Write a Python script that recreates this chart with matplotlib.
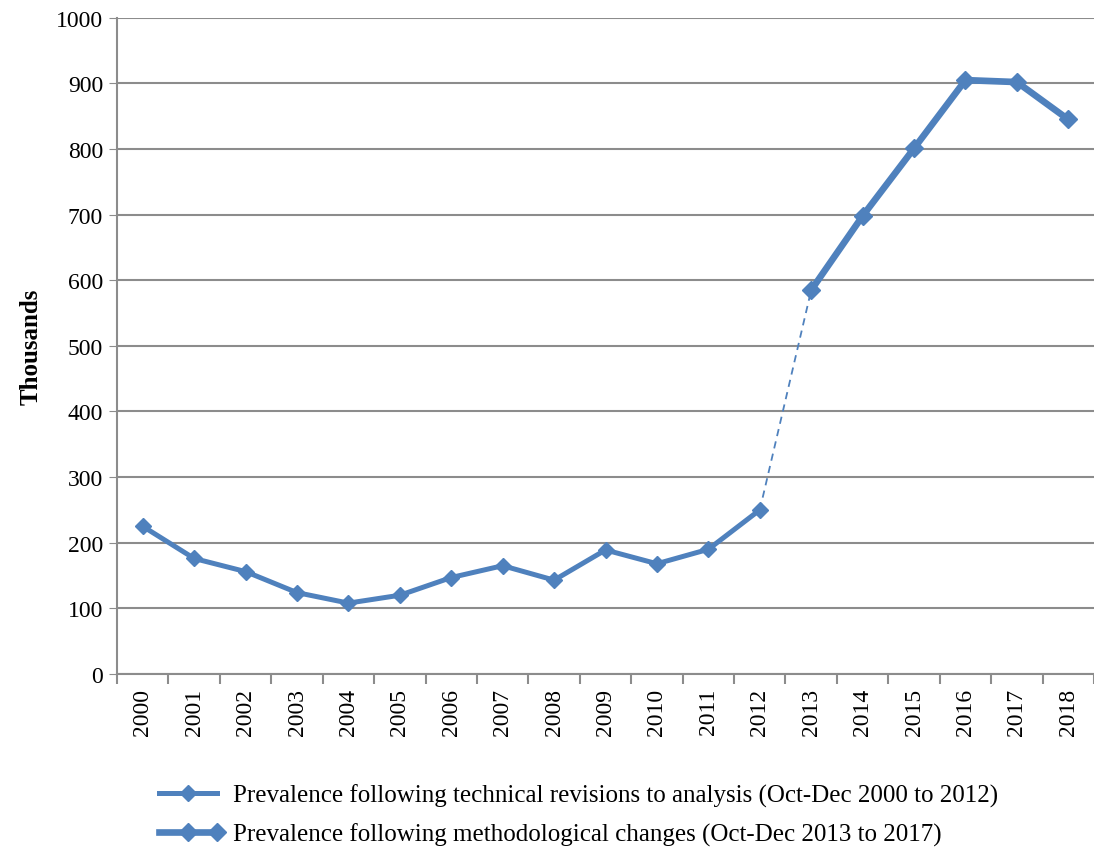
import matplotlib
matplotlib.use("Agg")
import matplotlib.pyplot as plt
from matplotlib.legend_handler import HandlerLine2D

plt.rcParams['font.family'] = ['Liberation Serif', 'DejaVu Serif']

# data (thousands)
years = [str(y) for y in range(2000, 2019)]
technical = [225, 176, 156, 124, 108, 120, 147, 165, 143, 189, 168, 190, 250]
methodological = [585, 698, 801, 905, 902, 845]

label_tech = "Prevalence following technical revisions to analysis (Oct-Dec 2000 to 2012)"
label_meth = "Prevalence following methodological changes (Oct-Dec 2013 to 2017)"

blue = "#4F81BD"
grid_col = "#8C8C8C"


class EndMarkerHandler(HandlerLine2D):
    # legend entry with a marker in the middle and at the right end
    def create_artists(self, *args, **kwargs):
        arts = super().create_artists(*args, **kwargs)
        for a in arts:
            a.set_markevery([1, 2])
        return arts


fig = plt.figure(figsize=(10.94, 8.53), dpi=100)
ax = fig.add_axes([0.107, 0.2087, 0.893, 0.7693])

n1 = len(technical)
x1 = list(range(n1))
x2 = list(range(n1, n1 + len(methodological)))

# dashed connector between the two series
ax.plot([x1[-1], x2[0]], [technical[-1], methodological[0]], color=blue,
        lw=1.3, ls=(0, (4, 3)), zorder=3)
l1, = ax.plot(x1, technical, color=blue, lw=3.6, marker="D", ms=8,
              label=label_tech, zorder=4)
l2, = ax.plot(x2, methodological, color=blue, lw=4.8, marker="D", ms=9,
              label=label_meth, zorder=4)

ax.set_xlim(-0.5, len(years) - 0.5)
ax.set_ylim(0, 1000)
ax.set_yticks(range(0, 1001, 100))
ax.set_xticks(range(len(years)))
ax.set_xticklabels(years, rotation=90, fontsize=17)
ax.tick_params(axis="y", labelsize=17, length=6, color=grid_col, pad=4)
ax.tick_params(axis="x", length=0, pad=10)
# category boundary tick marks
ax.set_xticks([i - 0.5 for i in range(len(years) + 1)], minor=True)
ax.tick_params(axis="x", which="minor", length=7, color=grid_col, width=1.5)

ax.yaxis.grid(True, color=grid_col, lw=1.5)
ax.set_axisbelow(True)
for s in ["top", "right"]:
    ax.spines[s].set_visible(False)
for s in ["left", "bottom"]:
    ax.spines[s].set_color(grid_col)
    ax.spines[s].set_linewidth(1.5)

ax.set_ylabel("Thousands", fontsize=18, fontweight="bold", labelpad=10)

fig.legend(handles=[l1, l2], loc="upper left", bbox_to_anchor=(0.125, 0.106),
           frameon=False, fontsize=18, handlelength=2.3, handletextpad=0.65,
           labelspacing=0.6,
           handler_map={l1: HandlerLine2D(numpoints=1),
                        l2: EndMarkerHandler(numpoints=1)})

fig.savefig("out.png", dpi=100)
